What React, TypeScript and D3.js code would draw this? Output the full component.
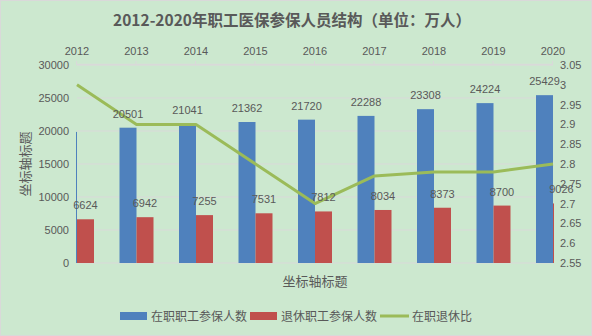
import React from "react";
import * as d3 from "d3";

const years = ["2012", "2013", "2014", "2015", "2016", "2017", "2018", "2019", "2020"];
const activeWorkers = [19861, 20501, 21041, 21362, 21720, 22288, 23308, 24224, 25429];
const retiredWorkers = [6624, 6942, 7255, 7531, 7812, 8034, 8373, 8700, 9026];
const ratio = [3.0, 2.9, 2.9, 2.8, 2.7, 2.77, 2.78, 2.78, 2.8];
const leftTicks = [0, 5000, 10000, 15000, 20000, 25000, 30000];
const rightTicks = ["2.55", "2.6", "2.65", "2.7", "2.75", "2.8", "2.85", "2.9", "2.95", "3", "3.05"];
const seriesNames = ["在职职工参保人数", "退休职工参保人数", "在职退休比"];
const title = "2012-2020年职工医保参保人员结构（单位：万人）";
const axisTitle = "坐标轴标题";

const W = 592;
const H = 336;
const BG = "#CCE8CF";
const TEXT = "#595959";
const GRID = "#D9D9D9";
const BLUE = "#4F81BD";
const RED = "#C0504D";
const GREEN = "#9BBB59";
const NUM_FONT = "'Liberation Sans', Arial, sans-serif";
const CJK_FONT = "'Noto Sans CJK SC', 'Noto Sans', sans-serif";

export default function App() {
  const left = 77, right = 553, top = 65, bottom = 263;
  const x = d3.scalePoint<string>().domain(years).range([left, right]);
  const step = x.step();
  const barW = step / 1.75 / 2;
  const y = d3.scaleLinear().domain([0, 30000]).range([bottom, top]);
  const y2 = d3.scaleLinear().domain([2.55, 3.05]).range([bottom, top]);
  const line = d3
    .line<number>()
    .x((_, i) => x(years[i]) as number)
    .y((d) => y2(d));

  return (
    <svg
      width={W}
      height={H}
      style={{ position: "fixed", left: 0, top: 0, display: "block" }}
    >
      <defs>
        <clipPath id="plotClip">
          <rect x={left - 1} y={top - 5} width={right - left + 2} height={bottom - top + 5} />
        </clipPath>
      </defs>
      <rect x={0.5} y={0.5} width={W - 1} height={H - 1} fill={BG} stroke={GRID} />
      <text
        x={292}
        y={26}
        textAnchor="middle"
        fontFamily={CJK_FONT}
        fontWeight="bold"
        fontSize={15.5}
        fill={TEXT}
      >
        {title}
      </text>

      {/* gridlines */}
      {leftTicks.map((t) => (
        <line key={t} x1={left} x2={right} y1={y(t)} y2={y(t)} stroke={GRID} strokeWidth={1} />
      ))}

      {/* top secondary axis */}
      <line x1={left - 0.5} x2={right} y1={top - 0.5} y2={top - 0.5} stroke={GRID} strokeWidth={1.5} />
      {years.map((yr) => (
        <line
          key={"tk" + yr}
          x1={(x(yr) as number) - 0.5}
          x2={(x(yr) as number) - 0.5}
          y1={top - 4}
          y2={top}
          stroke={GRID}
        />
      ))}
      {years.map((yr) => (
        <text
          key={"yl" + yr}
          x={x(yr) as number}
          y={55}
          textAnchor="middle"
          fontFamily={NUM_FONT}
          fontSize={11}
          fill={TEXT}
        >
          {yr}
        </text>
      ))}

      {/* bars */}
      <g clipPath="url(#plotClip)">
        {years.map((yr, i) => {
          const cx = x(yr) as number;
          return (
            <g key={"b" + yr}>
              <rect
                x={cx - barW}
                y={y(activeWorkers[i])}
                width={barW}
                height={bottom - y(activeWorkers[i])}
                fill={BLUE}
              />
              <rect
                x={cx}
                y={y(retiredWorkers[i])}
                width={barW}
                height={bottom - y(retiredWorkers[i])}
                fill={RED}
              />
            </g>
          );
        })}
      </g>

      {/* left axis labels */}
      {leftTicks.map((t) => (
        <text
          key={"lt" + t}
          x={69}
          y={y(t) + 4}
          textAnchor="end"
          fontFamily={NUM_FONT}
          fontSize={11}
          fill={TEXT}
        >
          {t}
        </text>
      ))}
      {/* right axis labels */}
      {rightTicks.map((t) => (
        <text
          key={"rt" + t}
          x={560}
          y={y2(+t) + 4}
          fontFamily={NUM_FONT}
          fontSize={11}
          fill={TEXT}
        >
          {t}
        </text>
      ))}

      {/* ratio line */}
      <path d={line(ratio) || ""} fill="none" stroke={GREEN} strokeWidth={3} strokeLinejoin="round" />

      {/* data labels */}
      {years.map((yr, i) => {
        const cx = x(yr) as number;
        const out: React.ReactNode[] = [];
        if (cx - barW >= left - 1) {
          out.push(
            <text
              key={"la" + yr}
              x={cx - barW / 2}
              y={y(activeWorkers[i]) - 10}
              textAnchor="middle"
              fontFamily={NUM_FONT}
              fontSize={11}
              fill={TEXT}
            >
              {activeWorkers[i]}
            </text>
          );
        }
        out.push(
          <text
            key={"lr" + yr}
            x={cx + barW / 2}
            y={y(retiredWorkers[i]) - 10}
            textAnchor="middle"
            fontFamily={NUM_FONT}
            fontSize={11}
            fill={TEXT}
          >
            {retiredWorkers[i]}
          </text>
        );
        return out;
      })}

      {/* axis titles */}
      <text
        x={(left + right) / 2}
        y={286}
        textAnchor="middle"
        fontFamily={CJK_FONT}
        fontSize={13}
        fill={TEXT}
      >
        {axisTitle}
      </text>
      <text
        transform={`translate(30, ${(top + bottom) / 2}) rotate(-90)`}
        textAnchor="middle"
        fontFamily={CJK_FONT}
        fontSize={13}
        fill={TEXT}
      >
        {axisTitle}
      </text>

      {/* legend */}
      <rect x={120} y={312} width={27} height={8} fill={BLUE} />
      <text x={151} y={321} fontFamily={CJK_FONT} fontSize={12} fill={TEXT}>
        {seriesNames[0]}
      </text>
      <rect x={250} y={312} width={27} height={8} fill={RED} />
      <text x={281} y={321} fontFamily={CJK_FONT} fontSize={12} fill={TEXT}>
        {seriesNames[1]}
      </text>
      <line x1={380} x2={409} y1={316} y2={316} stroke={GREEN} strokeWidth={3} />
      <text x={412} y={321} fontFamily={CJK_FONT} fontSize={12} fill={TEXT}>
        {seriesNames[2]}
      </text>
    </svg>
  );
}
